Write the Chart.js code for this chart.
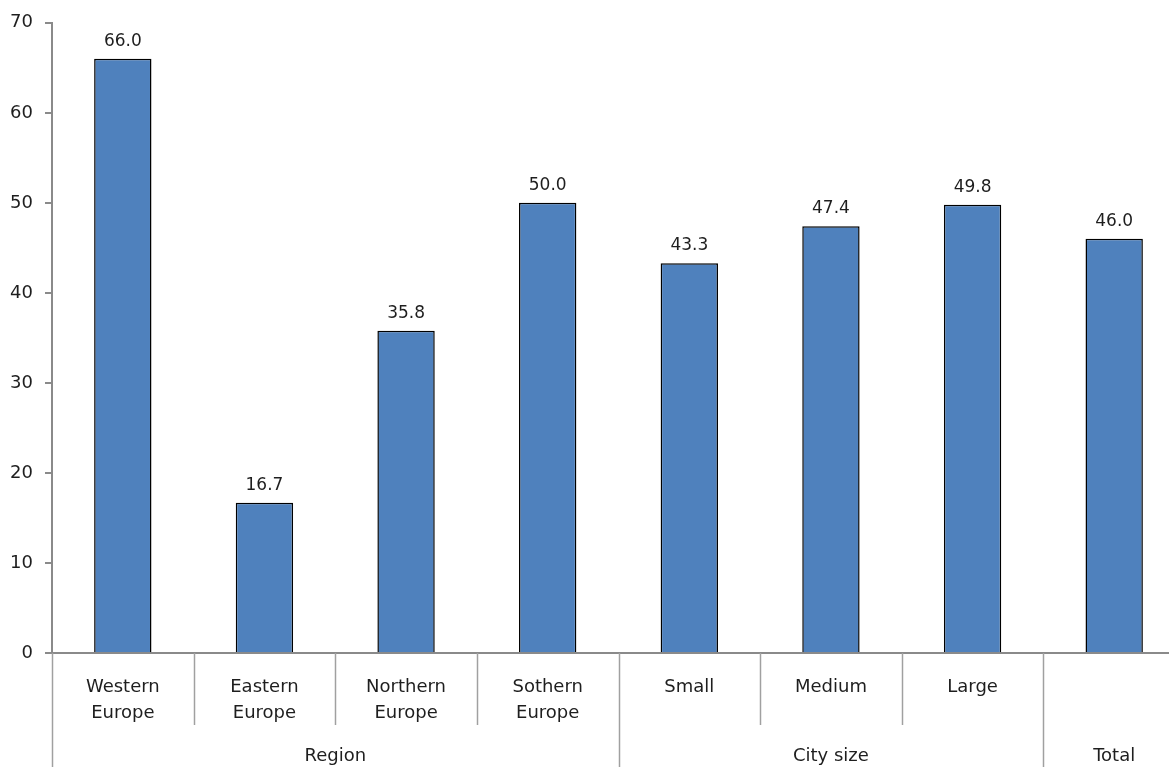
<!DOCTYPE html>
<html>
<head>
<meta charset="utf-8">
<script src="https://cdn.jsdelivr.net/npm/chart.js@4"></script>
<style>
  html, body { margin: 0; padding: 0; background: #fff; overflow: hidden; }
  #chart { display: block; }
</style>
</head>
<body>
<canvas id="chart" width="1190" height="767"></canvas>
<script>
const categories = [
  ['Western', 'Europe'], ['Eastern', 'Europe'], ['Northern', 'Europe'], ['Sothern', 'Europe'],
  'Small', 'Medium', 'Large', ''
];
const values = [66.0, 16.7, 35.8, 50.0, 43.3, 47.4, 49.8, 46.0];
const groupNames = ['Region', 'City size', 'Total'];
const groupSizes = [4, 3, 1];
const yTicks = [0, 10, 20, 30, 40, 50, 60, 70];

const FONT = "'DejaVu Sans', sans-serif";
const TEXT = '#1e1e1e';
const AXIS = '#8a8a8a';

// value labels above bars
const barLabels = {
  id: 'barLabels',
  afterDatasetsDraw(chart) {
    const ctx = chart.ctx;
    const meta = chart.getDatasetMeta(0);
    ctx.save();
    ctx.font = `17px ${FONT}`;
    ctx.fillStyle = TEXT;
    ctx.textAlign = 'center';
    ctx.textBaseline = 'bottom';
    meta.data.forEach((bar, i) => {
      ctx.fillText(values[i].toFixed(1), bar.x, bar.y - 9);
    });
    ctx.restore();
  }
};

// two-level category axis: separators and group names
const groupAxis = {
  id: 'groupAxis',
  afterDraw(chart) {
    const ctx = chart.ctx;
    const x = chart.scales.x;
    const top = chart.chartArea.bottom;
    const h = chart.height;
    const edge = (i) => x.getPixelForValue(i - 0.5);

    const groupEdges = [0];
    groupSizes.forEach((n) => groupEdges.push(groupEdges[groupEdges.length - 1] + n));

    ctx.save();
    ctx.strokeStyle = '#a0a0a0';
    ctx.lineWidth = 1.5;
    for (let i = 0; i <= categories.length; i++) {
      const px = Math.round(edge(i)) + 0.5;
      const isGroup = groupEdges.includes(i);
      ctx.beginPath();
      ctx.moveTo(px, top);
      ctx.lineTo(px, isGroup ? h : top + 72);
      ctx.stroke();
    }

    ctx.font = `18px ${FONT}`;
    ctx.fillStyle = TEXT;
    ctx.textAlign = 'center';
    ctx.textBaseline = 'middle';
    groupNames.forEach((name, g) => {
      const mid = (edge(groupEdges[g]) + edge(groupEdges[g + 1])) / 2;
      ctx.fillText(name, mid, top + 103);
    });
    ctx.restore();
  }
};

new Chart(document.getElementById('chart'), {
  type: 'bar',
  data: {
    labels: categories,
    datasets: [{
      data: values,
      backgroundColor: '#4f81bd',
      borderColor: '#000000',
      borderWidth: 1.5,
      barPercentage: 0.405,
      categoryPercentage: 1.0,
    }],
  },
  options: {
    responsive: false,
    animation: false,
    layout: { padding: { top: 22, right: 5, left: 0, bottom: 0 } },
    plugins: {
      legend: { display: false },
      tooltip: { enabled: false },
    },
    scales: {
      x: {
        offset: true,
        grid: { display: false, drawTicks: false },
        border: { display: true, color: AXIS, width: 2 },
        ticks: {
          padding: 21,
          color: TEXT,
          font: { family: FONT, size: 18, lineHeight: 1.45 },
          maxRotation: 0,
          autoSkip: false,
        },
        afterFit(scale) { scale.height = 114; },
      },
      y: {
        min: 0,
        max: 70,
        afterBuildTicks(scale) { scale.ticks = yTicks.map((v) => ({ value: v })); },
        grid: { drawOnChartArea: false, drawTicks: true, tickLength: 7, color: AXIS, lineWidth: 2 },
        border: { display: true, color: AXIS, width: 2 },
        ticks: {
          padding: 12,
          color: TEXT,
          font: { family: FONT, size: 18 },
        },
        afterFit(scale) { scale.width = 52; },
      },
    },
  },
  plugins: [barLabels, groupAxis],
});
</script>
</body>
</html>
